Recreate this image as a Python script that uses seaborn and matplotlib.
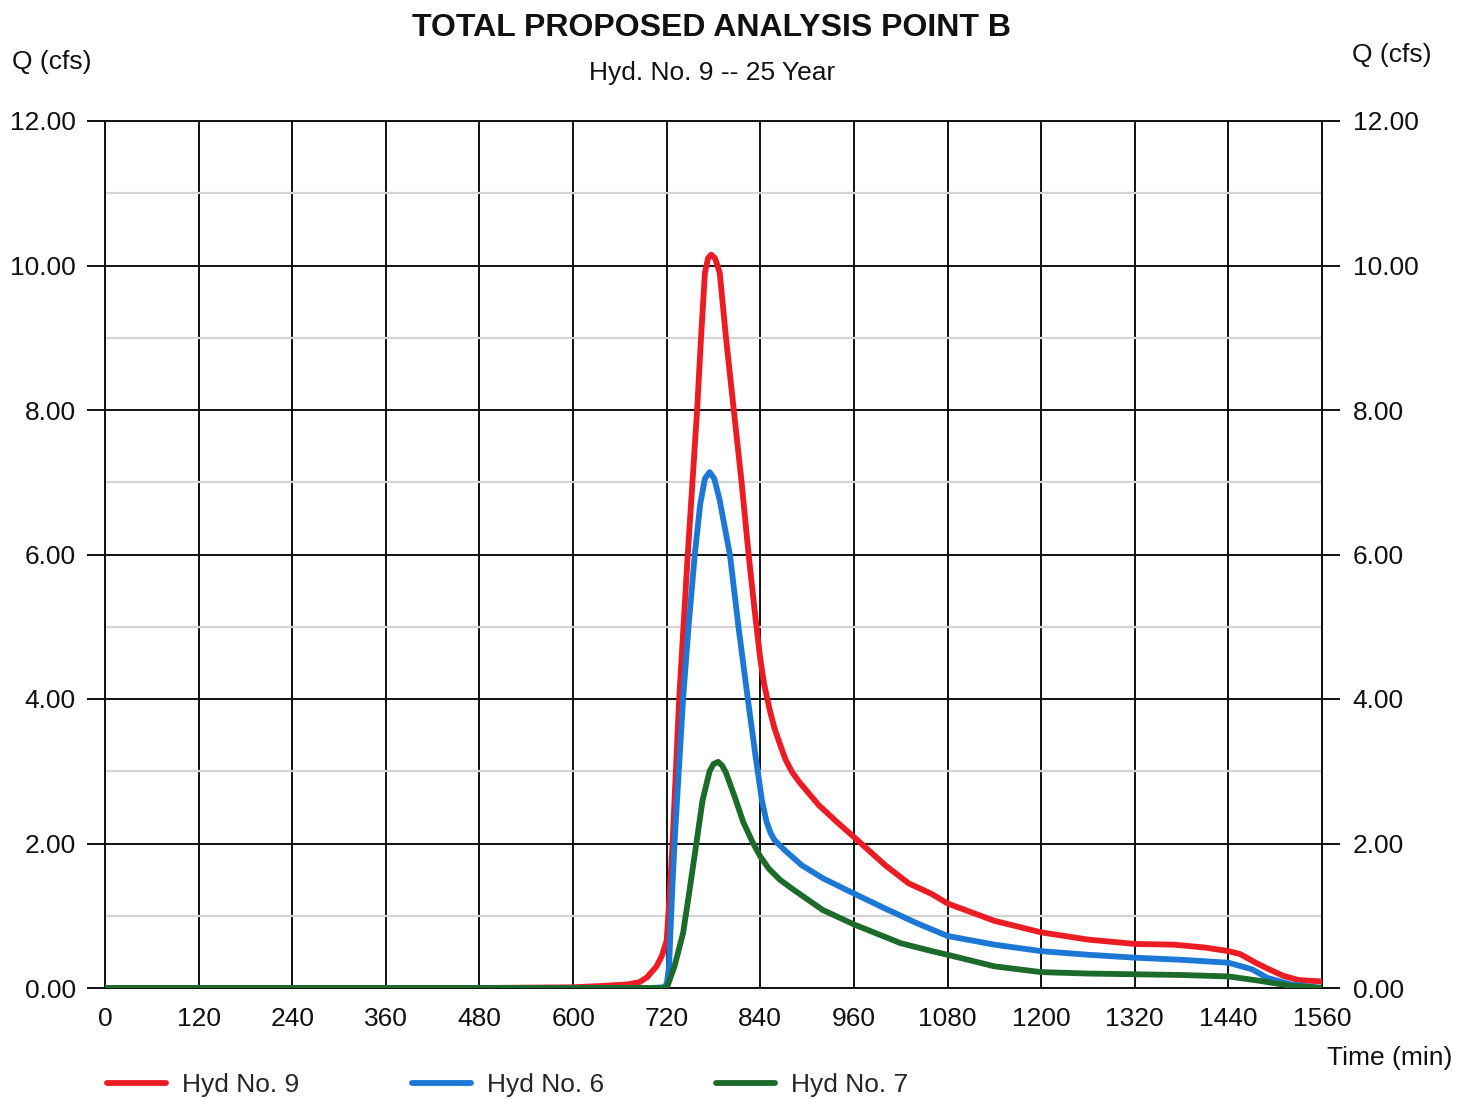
import matplotlib
matplotlib.use("Agg")
import matplotlib.pyplot as plt
from matplotlib.lines import Line2D
from matplotlib.ticker import FormatStrFormatter, MultipleLocator
import seaborn as sns
import pandas as pd

# Hydrograph ordinates: time (min) and discharge Q (cfs)
t_hyd9 = [0, 120, 240, 360, 480, 600, 640, 670, 685, 695, 707, 714, 720, 724, 727.5, 736, 747,
          753, 759, 764, 769, 773, 777, 782, 788, 796, 806, 816, 825, 833, 840, 845, 852, 858,
          865, 872, 880, 890, 915, 940, 960, 1000, 1030, 1060, 1080, 1140, 1200, 1260, 1320, 1370,
          1410, 1440, 1455, 1475, 1490, 1510, 1530, 1560]
q_hyd9 = [0, 0, 0, 0, 0, 0.01, 0.03, 0.05, 0.08, 0.15, 0.3, 0.45, 0.66, 1.33, 2.0, 4.0, 6.0,
          7.0, 8.0, 9.0, 9.9, 10.1, 10.15, 10.1, 9.9, 9.0, 8.0, 7.0, 6.0, 5.2, 4.55, 4.2, 3.85, 3.6,
          3.38, 3.17, 3.0, 2.85, 2.53, 2.28, 2.09, 1.7, 1.45, 1.3, 1.17, 0.93, 0.77, 0.67, 0.61, 0.6,
          0.56, 0.51, 0.47, 0.35, 0.27, 0.17, 0.11, 0.09]

t_hyd6 = [0, 120, 240, 360, 480, 600, 700, 716, 720, 723, 727, 730, 741, 748, 756, 763, 769,
          775, 781, 788, 794, 801, 812, 824, 834, 842, 848, 853, 858, 870, 893, 920, 950, 1000,
          1040, 1080, 1140, 1200, 1260, 1320, 1380, 1440, 1470, 1490, 1520, 1560]
q_hyd6 = [0, 0, 0, 0, 0, 0, 0, 0.01, 0.05, 0.3, 1.33, 2.0, 4.0, 5.0, 6.0, 6.7, 7.05,
          7.14, 7.05, 6.75, 6.4, 6.0, 5.0, 4.0, 3.2, 2.6, 2.3, 2.15, 2.05, 1.92, 1.7, 1.52, 1.36,
          1.1, 0.9, 0.72, 0.6, 0.51, 0.46, 0.42, 0.39, 0.35, 0.26, 0.14, 0.05, 0.0]

t_hyd7 = [0, 120, 240, 360, 480, 600, 715, 720, 730, 741, 749, 758, 766, 775, 780, 786, 791,
          796, 808, 818, 830, 840, 851, 865, 880, 920, 960, 1020, 1060, 1080, 1140, 1200, 1260,
          1320, 1380, 1440, 1480, 1520, 1560]
q_hyd7 = [0, 0, 0, 0, 0, 0, 0, 0.0, 0.3, 0.76, 1.33, 2.0, 2.6, 3.0, 3.1, 3.13, 3.08,
          2.98, 2.62, 2.3, 2.02, 1.82, 1.65, 1.5, 1.38, 1.08, 0.88, 0.62, 0.51, 0.46, 0.3, 0.22,
          0.2, 0.19, 0.18, 0.16, 0.1, 0.03, 0.0]

series_names = ["Hyd No. 9", "Hyd No. 6", "Hyd No. 7"]
series_colors = ["#ec1c24", "#1c78d4", "#1d6b2b"]

x_ticks = list(range(0, 1561, 120))
y_ticks = list(range(0, 13, 2))

sns.set_theme(style="white")
plt.rcParams["font.family"] = ["Liberation Sans", "DejaVu Sans"]

fig = plt.figure(figsize=(14.7, 10.99), dpi=100)
ax = fig.add_axes([105 / 1470, 1 - 988 / 1099, (1322 - 105) / 1470, (988 - 121) / 1099])

# minor horizontal grid at odd Q values, major grid every 2 cfs / 120 min
ax.yaxis.set_minor_locator(MultipleLocator(1))
ax.grid(which="minor", axis="y", color="#d4d4d4", lw=1.6)
ax.grid(which="major", axis="both", color="#111111", lw=1.4)
ax.set_axisbelow(True)

frames = [
    pd.DataFrame({"Time": t_hyd9, "Q": q_hyd9}),
    pd.DataFrame({"Time": t_hyd6, "Q": q_hyd6}),
    pd.DataFrame({"Time": t_hyd7, "Q": q_hyd7}),
]
for df, col in zip(frames, series_colors):
    sns.lineplot(data=df, x="Time", y="Q", ax=ax, color=col, lw=4.2, zorder=3,
                 solid_joinstyle="round", solid_capstyle="round")

ax.set_xlim(0, 1560)
ax.set_ylim(0, 12)
ax.set_xticks(x_ticks)
ax.set_yticks(y_ticks)
ax.yaxis.set_major_formatter(FormatStrFormatter("%.2f"))
ax.set_xlabel("")
ax.set_ylabel("")

for s in ax.spines.values():
    s.set_color("#111111")
    s.set_linewidth(1.4)

ax.tick_params(axis="y", which="major", left=True, right=False, labelleft=True,
               length=13, width=1.4, color="#111111", labelsize=19, pad=8, labelcolor="#111111")
ax.tick_params(axis="y", which="minor", length=0)
ax.tick_params(axis="x", which="major", bottom=True, length=0, labelsize=19, pad=14,
               labelcolor="#111111")

# right-hand Q scale
ax2 = ax.twinx()
ax2.set_ylim(0, 12)
ax2.set_yticks(y_ticks)
ax2.yaxis.set_major_formatter(FormatStrFormatter("%.2f"))
ax2.yaxis.set_minor_locator(MultipleLocator(1))
ax2.tick_params(axis="y", which="major", right=True, length=13, width=1.4, color="#111111",
                labelsize=19, pad=9, labelcolor="#111111")
ax2.tick_params(axis="y", which="minor", length=0)
ax2.grid(False)
for s in ax2.spines.values():
    s.set_visible(False)

fig.text(712 / 1470, 1 - 28 / 1099, "TOTAL PROPOSED ANALYSIS POINT B", ha="center", va="center",
         fontsize=23, fontweight="bold", color="#111111")
fig.text(712 / 1470, 1 - 73 / 1099, "Hyd. No. 9 -- 25 Year", ha="center", va="center",
         fontsize=19, color="#111111")
fig.text(12 / 1470, 1 - 62 / 1099, "Q (cfs)", ha="left", va="center", fontsize=19, color="#111111")
fig.text(1352 / 1470, 1 - 55 / 1099, "Q (cfs)", ha="left", va="center", fontsize=19, color="#111111")
fig.text(1452 / 1470, 1 - 1058 / 1099, "Time (min)", ha="right", va="center", fontsize=19,
         color="#111111")

handles = [Line2D([], [], color=c, lw=4.2) for c in series_colors]
fig.legend(handles, series_names, loc="center left", bbox_to_anchor=(107 / 1470, 1 - 1085 / 1099),
           ncol=3, frameon=False, fontsize=19, handlelength=2.25, handletextpad=0.6,
           columnspacing=4.25, borderpad=0, borderaxespad=0)

fig.savefig("out.png", dpi=100, facecolor="white")
